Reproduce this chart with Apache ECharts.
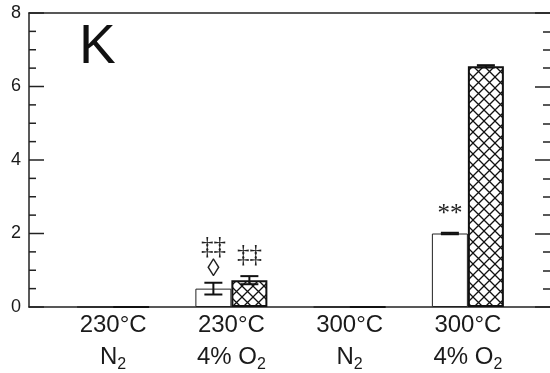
<!DOCTYPE html>
<html>
<head>
<meta charset="utf-8">
<script src="https://cdn.jsdelivr.net/npm/echarts@6/dist/echarts.min.js"></script>
<style>html,body{margin:0;padding:0;background:#fff}#c{width:550px;height:373px}</style>
</head>
<body>
<div id="c"></div>
<script>
// ---- data ----
const categories = ['230°C|N', '230°C|4% O', '300°C|N', '300°C|4% O'];
const plainValues = [0, 0.5, 0, 2.0];
const plainErrors = [0, 0.16, 0, 0.02];
const hatchValues = [0, 0.73, 0, 6.55];
const hatchErrors = [0, 0.11, 0, 0.03];
const plainNotes = ['', '‡‡\n◊', '', '**'];
const hatchNotes = ['', '‡‡', '', ''];
const yTicks = [0, 2, 4, 6, 8];
const yMinorStep = 0.5;
const panelLetter = 'K';

// ---- hatch pattern ----
function makeHatch() {
  const p = 11;
  const cv = document.createElement('canvas');
  cv.width = p; cv.height = p;
  const ctx = cv.getContext('2d');
  ctx.fillStyle = '#fff';
  ctx.fillRect(0, 0, p, p);
  ctx.strokeStyle = '#111';
  ctx.lineWidth = 1.3;
  ctx.beginPath();
  ctx.moveTo(-2, -2); ctx.lineTo(p + 2, p + 2);
  ctx.moveTo(-2, p + 2); ctx.lineTo(p + 2, -2);
  ctx.stroke();
  return cv;
}

const BAR_W = 36;
const chart = echarts.init(document.getElementById('c'), null, {renderer: 'canvas'});

function errorSeries(values, errors, side) {
  return {
    type: 'custom',
    xAxisIndex: 2, yAxisIndex: 2,
    z: 10,
    data: values.map((v, i) => [i, v, errors[i]]),
    renderItem: function (params, api) {
      const i = api.value(0), v = api.value(1), e = api.value(2);
      if (!v) return null;
      const c = api.coord([i, v]);
      const x = c[0] + side * BAR_W / 2;
      const top = api.coord([i, v + e])[1];
      const bot = api.coord([i, v - e])[1];
      const hw = 9;
      const st = {stroke: '#111', lineWidth: 2};
      return {
        type: 'group',
        children: [
          {type: 'line', shape: {x1: x, y1: top, x2: x, y2: bot}, style: st},
          {type: 'line', shape: {x1: x - hw, y1: top, x2: x + hw, y2: top}, style: st},
          {type: 'line', shape: {x1: x - hw, y1: bot, x2: x + hw, y2: bot}, style: st}
        ]
      };
    }
  };
}

// tick positions along the left axis (axis scale values, major + minor)
const leftTickValues = [];
for (let v = yTicks[0]; v <= yTicks[yTicks.length - 1] + 1e-9; v += yMinorStep) leftTickValues.push(v);

const noteLabel = (notes, dist) => ({
  show: true,
  position: 'top',
  distance: dist,
  formatter: (p) => notes[p.dataIndex],
  fontFamily: 'Liberation Serif',
  fontSize: 25,
  lineHeight: 22,
  color: '#222'
});

const axLine = () => ({show: true, onZero: false, lineStyle: {color: '#222', width: 1.5}});

const option = {
  animation: false,
  backgroundColor: '#fff',
  grid: [
    {left: 29, right: 0, top: 13, bottom: 66},
    {left: 54, width: 473, top: 13, bottom: 66},
    {left: 54, width: 473, top: 13, bottom: 66}
  ],
  xAxis: [
    {gridIndex: 0, type: 'value', min: 0, max: 1, position: 'bottom',
     axisLine: axLine(), axisTick: {show: false}, axisLabel: {show: false}, splitLine: {show: false}},
    {gridIndex: 0, type: 'value', min: 0, max: 1, position: 'top',
     axisLine: axLine(), axisTick: {show: false}, axisLabel: {show: false}, splitLine: {show: false}},
    {gridIndex: 1, type: 'category', data: categories,
     axisLine: {show: false}, axisTick: {show: false},
     axisLabel: {
       margin: 2,
       formatter: function (v) {
         const parts = v.split('|');
         return '{a|' + parts[0] + '}\n{a|' + parts[1] + '}{s|2}';
       },
       rich: {
         a: {fontFamily: 'Liberation Sans', fontSize: 24, lineHeight: 32, color: '#1a1a1a'},
         s: {fontFamily: 'Liberation Sans', fontSize: 16, lineHeight: 16, verticalAlign: 'bottom', color: '#1a1a1a'}
       }
     }},
    {gridIndex: 2, type: 'category', data: categories, show: false}
  ],
  yAxis: [
    {gridIndex: 0, type: 'value', min: 0, max: 8, interval: 2, position: 'left',
     axisLine: axLine(),
     axisTick: {show: false},
     splitLine: {show: false},
     axisLabel: {margin: 8, fontFamily: 'Liberation Sans', fontSize: 18, color: '#1a1a1a',
       formatter: (v) => yTicks.includes(v) ? String(v) : ''}},
    {gridIndex: 0, type: 'value', min: 0, max: 8, interval: 2, position: 'right',
     axisLine: {show: false, onZero: false},
     axisTick: {show: true, inside: true, length: 15, lineStyle: {color: '#222', width: 1.5}},
     minorTick: {show: true, splitNumber: 4, length: 7, lineStyle: {color: '#222', width: 1.5}},
     splitLine: {show: false}, axisLabel: {show: false}},
    {gridIndex: 1, type: 'value', min: 0, max: 8, show: false, splitLine: {show: false}},
    {gridIndex: 2, type: 'value', min: 0, max: 8, show: false, splitLine: {show: false}}
  ],
  graphic: [
    {type: 'text', left: 79, top: 20,
     style: {text: panelLetter, fontFamily: 'Liberation Sans', fontSize: 55, fill: '#111'}}
  ],
  series: [
    {type: 'custom', name: 'leftTicks', xAxisIndex: 0, yAxisIndex: 0,
     silent: true, clip: false, zlevel: 2, z: 100,
     encode: {x: 0, y: 1},
     data: leftTickValues.map(v => [0, v]),
     renderItem: function (params, api) {
       const v = api.value(1);
       const y = api.coord([0, v])[1];
       const x0 = params.coordSys.x;
       const major = yTicks.some(t => Math.abs(t - v) < 1e-9);
       const len = major ? 15 : 7;
       return {type: 'line', shape: {x1: x0, y1: y, x2: x0 + len, y2: y},
               style: {stroke: '#222', lineWidth: 1.5}};
     }},
    {type: 'bar', xAxisIndex: 2, yAxisIndex: 2, data: plainValues,
     barWidth: BAR_W, barGap: '0%',
     itemStyle: {color: '#fff', borderColor: '#222', borderWidth: 1},
     label: noteLabel(plainNotes, 8)},
    {type: 'bar', xAxisIndex: 2, yAxisIndex: 2, data: hatchValues,
     barWidth: BAR_W, barGap: '0%',
     itemStyle: {color: {image: makeHatch(), repeat: 'repeat'}, borderColor: '#111', borderWidth: 2},
     label: noteLabel(hatchNotes, 14)},
    errorSeries(plainValues, plainErrors, -1),
    errorSeries(hatchValues, hatchErrors, 1)
  ]
};
chart.setOption(option);
</script>
</body>
</html>
